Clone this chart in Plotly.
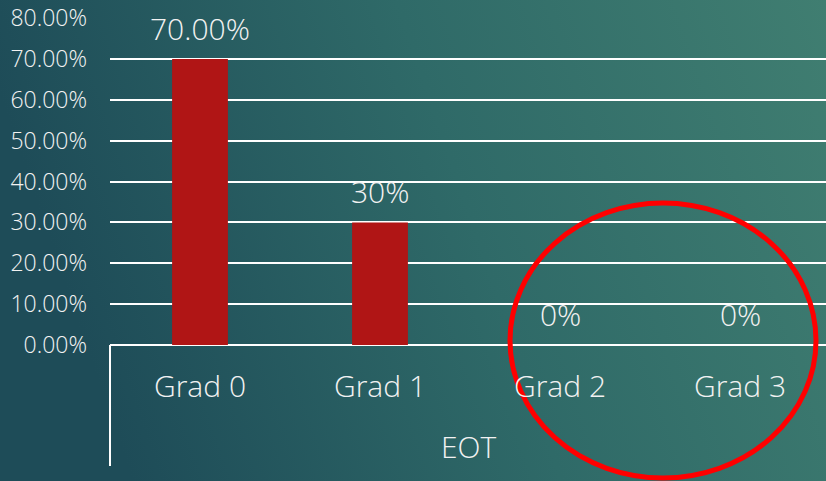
import base64
import plotly.graph_objects as go

# Share of cases per grade, end of treatment (EOT)
grades = ["Grad 0", "Grad 1", "Grad 2", "Grad 3"]
share_pct = [70, 30, 0, 0]
value_labels = ["70.00%", "30%", "0%", "0%"]
y_ticks = [0, 10, 20, 30, 40, 50, 60, 70, 80]
y_tick_labels = ["0.00%", "10.00%", "20.00%", "30.00%", "40.00%",
                 "50.00%", "60.00%", "70.00%", "80.00%"]
group_label = "EOT"

W, H = 826, 481
L, R, T, B = 110, 0, 18, 136
pw, ph = W - L - R, H - T - B

FONT = "Open Sans"
TXT = "#f2f2f2"
LABEL_FONT = dict(family=FONT, size=30, color=TXT, weight=300)

# teal gradient backdrop
svg = f"""<svg xmlns='http://www.w3.org/2000/svg' width='{W}' height='{H}' viewBox='0 0 {W} {H}' preserveAspectRatio='none'>
<defs><linearGradient id='g' x1='0' y1='0.2' x2='1' y2='0'>
<stop offset='0' stop-color='#1e4c58'/>
<stop offset='0.5' stop-color='#2f6a68'/>
<stop offset='1' stop-color='#407e71'/>
</linearGradient></defs>
<rect width='{W}' height='{H}' fill='url(#g)'/></svg>"""
bg_src = "data:image/svg+xml;base64," + base64.b64encode(svg.encode()).decode()

fig = go.Figure()
fig.add_trace(go.Bar(
    x=list(range(len(grades))), y=share_pct,
    marker=dict(color="#b01515", line=dict(width=0)),
    width=0.31, hoverinfo="skip",
))

annotations = []
for i, (v, lab) in enumerate(zip(share_pct, value_labels)):
    annotations.append(dict(x=i, y=v, xref="x", yref="y", text=lab,
                            showarrow=False, yanchor="bottom", yshift=8,
                            font=LABEL_FONT))
for i, g in enumerate(grades):
    annotations.append(dict(x=i, y=-40 / ph, xref="x", yref="paper", text=g,
                            showarrow=False, yanchor="middle",
                            font=LABEL_FONT))
annotations.append(dict(x=0.5, y=-102 / ph, xref="paper", yref="paper",
                        text=group_label, showarrow=False, yanchor="middle",
                        font=LABEL_FONT))

shapes = [
    # category group bracket
    dict(type="line", xref="paper", yref="paper", x0=0, x1=0, y0=0,
         y1=-121 / ph, line=dict(color="white", width=2)),
    # highlight ring around the empty grades
    dict(type="circle", xref="paper", yref="paper",
         x0=(510 - L) / pw, x1=(816 - L) / pw,
         y0=(T + ph - 478) / ph, y1=(T + ph - 203) / ph,
         line=dict(color="#ff0000", width=5), layer="above"),
]

fig.update_layout(
    width=W, height=H,
    margin=dict(l=L, r=R, t=T, b=B, pad=0),
    paper_bgcolor="rgba(0,0,0,0)", plot_bgcolor="rgba(0,0,0,0)",
    images=[dict(source=bg_src, xref="paper", yref="paper",
                 x=-L / pw, y=1 + T / ph, sizex=W / pw, sizey=H / ph,
                 sizing="stretch", xanchor="left", yanchor="top",
                 layer="below")],
    showlegend=False,
    annotations=annotations,
    shapes=shapes,
    xaxis=dict(range=[-0.5, -0.5 + pw / 180], showgrid=False,
               showticklabels=False, zeroline=False, showline=False,
               fixedrange=True),
    yaxis=dict(range=[0, 80], tickvals=y_ticks, ticktext=y_tick_labels,
               showgrid=True, gridcolor="white", gridwidth=2,
               zeroline=True, zerolinecolor="white", zerolinewidth=2,
               showline=False, ticks="", ticklabelstandoff=22,
               tickfont=dict(family=FONT, size=23, color=TXT, weight=300),
               fixedrange=True),
)

fig.write_html("out.html", config={"displayModeBar": False})
